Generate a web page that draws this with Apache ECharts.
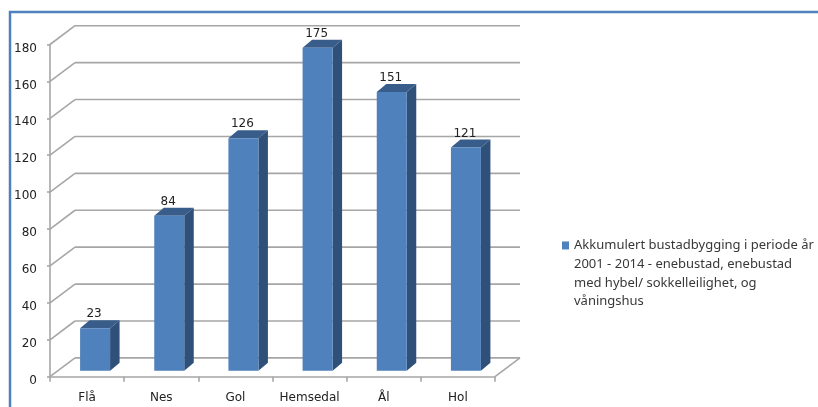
<!DOCTYPE html>
<html>
<head>
<meta charset="utf-8">
<style>html,body{margin:0;padding:0;background:#fff}#c{width:818px;height:407px;filter:blur(0.4px)}</style>
<script src="https://cdn.jsdelivr.net/npm/echarts@6/dist/echarts.min.js"></script>
</head>
<body>
<div id="c"></div>
<script>
const categories = ['Flå', 'Nes', 'Gol', 'Hemsedal', 'Ål', 'Hol'];
const values = [23, 84, 126, 175, 151, 121];
const yTicks = [0, 20, 40, 60, 80, 100, 120, 140, 160, 180];
const seriesLines = [
  'Akkumulert bustadbygging i periode år',
  '2001 - 2014 - enebustad, enebustad',
  'med hybel/ sokkelleilighet, og',
  'våningshus'
];
const seriesName = seriesLines.join('\n');

const FONT = '"DejaVu Sans", sans-serif';
const GRID_COLOR = '#a6a6a6';
const TEXT_COLOR = '#222222';

const chart = echarts.init(document.getElementById('c'), null, { renderer: 'canvas' });

function wallItem(params, api) {
  const v = api.value(0);
  const cs = params.coordSys;
  const y = api.coord([0, v])[1];
  const x0 = cs.x, x1 = cs.x + cs.width;
  const dx = 25, dy = -18.8;
  const style = { stroke: GRID_COLOR, lineWidth: 1.6, fill: null };
  const children = [
    { type: 'line', shape: { x1: x0, y1: y, x2: x0 + dx, y2: y + dy }, style },
    { type: 'line', shape: { x1: x0 + dx, y1: y + dy, x2: x1 + dx, y2: y + dy }, style }
  ];
  if (v === 0) {
    children.push({ type: 'line', shape: { x1: x1, y1: y, x2: x1 + dx, y2: y + dy }, style });
  }
  return { type: 'group', children };
}

function barItem(params, api) {
  const top = api.coord([api.value(0), api.value(1)]);
  const base = api.coord([api.value(0), 0]);
  const shiftX = 8, shiftY = -6;
  const w = 30, ox = 9.5, oy = -8;
  const l = top[0] + shiftX - w / 2, r = l + w;
  const t = top[1] + shiftY, b = base[1] + shiftY;
  return {
    type: 'group',
    children: [
      { type: 'polygon', shape: { points: [[r, t], [r + ox, t + oy], [r + ox, b + oy], [r, b]] }, style: { fill: '#2f5078' } },
      { type: 'polygon', shape: { points: [[l, t], [l + ox, t + oy], [r + ox, t + oy], [r, t]] }, style: { fill: '#385d8a' } },
      { type: 'rect', shape: { x: l, y: t, width: w, height: b - t }, style: { fill: '#4f81bd' } },
      { type: 'text', style: { x: l + w / 2 - 1, y: t - 14, text: String(api.value(1)), fill: TEXT_COLOR, font: '12px ' + FONT, align: 'center', verticalAlign: 'middle' } }
    ]
  };
}

chart.setOption({
  animation: false,
  backgroundColor: '#ffffff',
  grid: { left: 50, right: 323, top: 44.5, bottom: 30.3, containLabel: false },
  xAxis: {
    type: 'category',
    data: categories,
    boundaryGap: true,
    axisLine: { lineStyle: { color: GRID_COLOR, width: 1.6 } },
    axisTick: { show: true, alignWithLabel: false, length: 5, lineStyle: { color: GRID_COLOR, width: 1.6 } },
    axisLabel: { color: TEXT_COLOR, fontFamily: FONT, fontSize: 12, margin: 15, interval: 0 }
  },
  yAxis: {
    type: 'value',
    min: 0, max: 180, interval: 20,
    axisLine: { show: true, lineStyle: { color: GRID_COLOR, width: 1.6 } },
    axisTick: { show: true, length: 3, lineStyle: { color: GRID_COLOR, width: 1.6 } },
    axisLabel: { color: TEXT_COLOR, fontFamily: FONT, fontSize: 12, margin: 13, verticalAlign: 'top', lineHeight: 8 },
    splitLine: { show: false }
  },
  legend: {
    show: true,
    left: 557,
    top: 175,
    orient: 'vertical',
    itemWidth: 7,
    itemHeight: 8,
    itemGap: 0,
    icon: 'rect',
    data: [seriesName],
    formatter: function (name) { return '\n\n\n' + name; },
    textStyle: {
      color: '#383838',
      fontFamily: '"Noto Sans", sans-serif',
      fontSize: 13,
      lineHeight: 18.7
    }
  },
  graphic: [
    { type: 'rect', silent: true, z: -10, shape: { x: 10, y: 12, width: 900, height: 500 }, style: { fill: null, stroke: '#4f81bd', lineWidth: 2.5 } }
  ],
  series: [
    { type: 'custom', name: 'wall', renderItem: wallItem, data: yTicks.map(v => [v]), encode: { y: 0 }, silent: true, z: 1, clip: false },
    { type: 'custom', name: seriesName, renderItem: barItem, data: values.map((v, i) => [i, v]), encode: { x: 0, y: 1 }, itemStyle: { color: '#4f81bd' }, z: 2, clip: false }
  ]
});
</script>
</body>
</html>
